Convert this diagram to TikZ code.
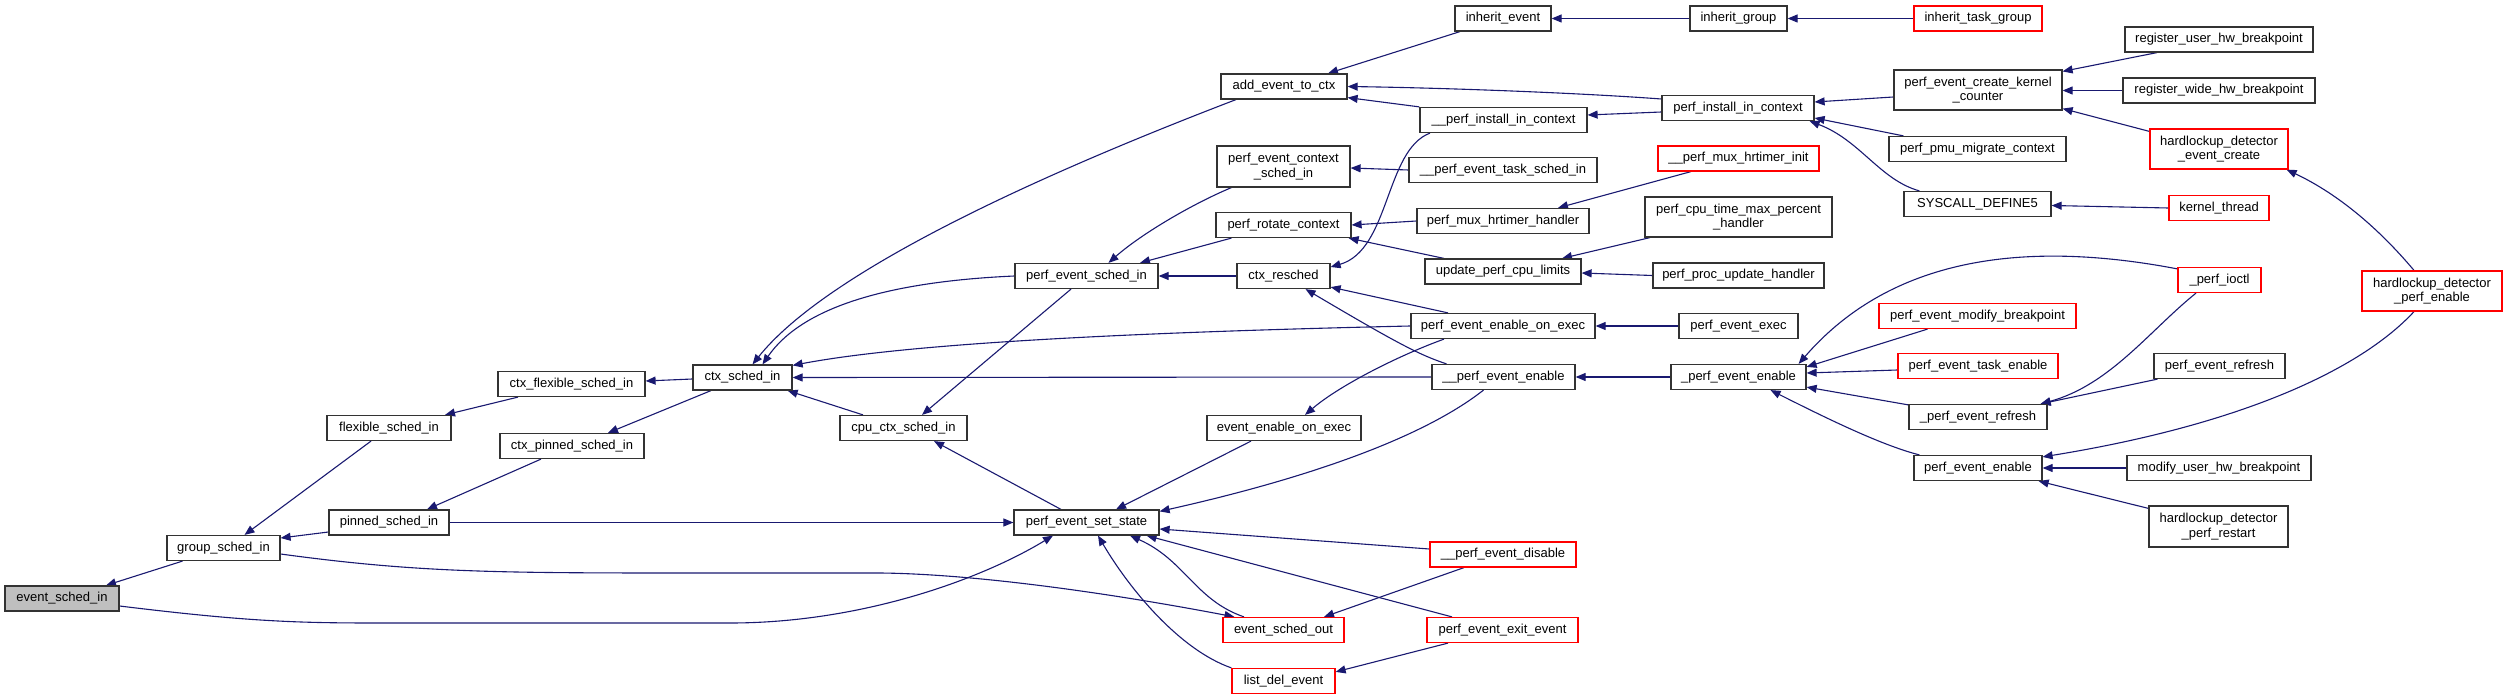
\documentclass[tikz,border=0pt]{standalone}
\usepackage{fontspec}
\setmainfont{Liberation Sans}
\usetikzlibrary{arrows.meta}
\definecolor{navy}{HTML}{191970}
\definecolor{boxred}{HTML}{FF0000}
\definecolor{rootgray}{HTML}{BFBFBF}
\pgfdeclarelayer{bg}
\pgfsetlayers{bg,main}
\begin{document}
\begin{tikzpicture}[x=1pt,y=-1pt,
 fn/.style={draw=black!80, line width=1.2pt, fill=white, minimum height=25pt, inner sep=0pt, font=\fontsize{13}{14.5}\selectfont, align=center},
 fnred/.style={fn, draw=boxred},
 fnroot/.style={fn, fill=rootgray},
 ca/.style={draw=navy, line width=1.1pt, -{Triangle[length=10pt,width=8pt]}}]
\useasboundingbox (0,0) rectangle (2507,700);

% column 1-6
\node[fnroot, minimum width=114pt] (esi) at (62,598.5) {event\_sched\_in};
\node[fn, minimum width=113pt] (gsi) at (223.5,548) {group\_sched\_in};
\node[fn, minimum width=124pt] (fsi) at (389,428) {flexible\_sched\_in};
\node[fn, minimum width=120pt] (psi) at (389,522.5) {pinned\_sched\_in};
\node[fn, minimum width=147pt] (cfsi) at (571.5,384) {ctx\_flexible\_sched\_in};
\node[fn, minimum width=144pt] (cpsi) at (572,446) {ctx\_pinned\_sched\_in};
\node[fn, minimum width=99pt] (csi) at (742.5,377.5) {ctx\_sched\_in};
\node[fn, minimum width=127pt] (ccsi) at (903.5,428) {cpu\_ctx\_sched\_in};
\node[fn, minimum width=145pt] (pses) at (1086.5,522.5) {perf\_event\_set\_state};
\node[fn, minimum width=143pt] (pesi) at (1086.5,276) {perf\_event\_sched\_in};
% column 7
\node[fn, minimum width=126pt] (aetc) at (1284,86.5) {add\_event\_to\_ctx};
\node[fn, minimum width=133pt, minimum height=41pt] (pecsi) at (1283.5,166.5) {perf\_event\_context\\\_sched\_in};
\node[fn, minimum width=135pt] (prc) at (1283.5,225) {perf\_rotate\_context};
\node[fn, minimum width=93pt] (cr) at (1283.5,276) {ctx\_resched};
\node[fn, minimum width=154pt] (eeoe) at (1284,428) {event\_enable\_on\_exec};
\node[fnred, minimum width=121pt] (eso) at (1283.5,630) {event\_sched\_out};
\node[fnred, minimum width=103pt] (lde) at (1283.5,681) {list\_del\_event};
% column 8
\node[fn, minimum width=96pt] (ie) at (1503,18.5) {inherit\_event};
\node[fn, minimum width=167pt] (upic) at (1503.5,120) {\_\_perf\_install\_in\_context};
\node[fn, minimum width=188pt] (upetsi) at (1503,170) {\_\_perf\_event\_task\_sched\_in};
\node[fn, minimum width=172pt] (pmhh) at (1503,221) {perf\_mux\_hrtimer\_handler};
\node[fn, minimum width=156pt] (upcl) at (1503,271.5) {update\_perf\_cpu\_limits};
\node[fn, minimum width=184pt] (peeoe) at (1503,326) {perf\_event\_enable\_on\_exec};
\node[fn, minimum width=143pt] (uupee) at (1503.5,377) {\_\_perf\_event\_enable};
\node[fnred, minimum width=146pt] (upedis) at (1503,554.5) {\_\_perf\_event\_disable};
\node[fnred, minimum width=151pt] (peee) at (1502.5,630) {perf\_event\_exit\_event};
% column 9
\node[fn, minimum width=97pt] (ig) at (1738.5,18.5) {inherit\_group};
\node[fn, minimum width=152pt] (pic) at (1738,108) {perf\_install\_in\_context};
\node[fnred, minimum width=161pt] (upmhi) at (1738.5,158.5) {\_\_perf\_mux\_hrtimer\_init};
\node[fn, minimum width=187pt, minimum height=40pt] (pctmph) at (1738.5,217) {perf\_cpu\_time\_max\_percent\\\_handler};
\node[fn, minimum width=171pt] (ppuh) at (1738.5,275.5) {perf\_proc\_update\_handler};
\node[fn, minimum width=119pt] (pex) at (1738.5,326) {perf\_event\_exec};
\node[fn, minimum width=135pt] (upee) at (1738.5,377) {\_perf\_event\_enable};
% column 10
\node[fnred, minimum width=128pt] (itg) at (1978,18.5) {inherit\_task\_group};
\node[fn, minimum width=168pt, minimum height=40pt] (pekc) at (1978,90) {perf\_event\_create\_kernel\\\_counter};
\node[fn, minimum width=177pt] (ppmc) at (1977.5,149) {perf\_pmu\_migrate\_context};
\node[fn, minimum width=147pt] (sd5) at (1977.5,204) {SYSCALL\_DEFINE5};
\node[fnred, minimum width=197pt] (pemb) at (1977.5,316) {perf\_event\_modify\_breakpoint};
\node[fnred, minimum width=160pt] (pete) at (1978,366) {perf\_event\_task\_enable};
\node[fn, minimum width=138pt] (uper) at (1978,417) {\_perf\_event\_refresh};
\node[fn, minimum width=128pt] (pee) at (1978,468) {perf\_event\_enable};
% column 11
\node[fn, minimum width=188pt] (ruhb) at (2219,39.5) {register\_user\_hw\_breakpoint};
\node[fn, minimum width=192pt] (rwhb) at (2219,90.5) {register\_wide\_hw\_breakpoint};
\node[fnred, minimum width=138pt, minimum height=40pt] (hdec) at (2219,149) {hardlockup\_detector\\\_event\_create};
\node[fnred, minimum width=100pt] (kt) at (2219,208) {kernel\_thread};
\node[fnred, minimum width=83pt] (upi) at (2219.5,280) {\_perf\_ioctl};
\node[fn, minimum width=131pt] (per) at (2219.5,366) {perf\_event\_refresh};
\node[fn, minimum width=184pt] (muhb) at (2219,468) {modify\_user\_hw\_breakpoint};
\node[fn, minimum width=139pt, minimum height=41pt] (hdpr) at (2218.5,526.5) {hardlockup\_detector\\\_perf\_restart};
% column 12
\node[fnred, minimum width=140pt, minimum height=40pt] (hdpe) at (2432,291) {hardlockup\_detector\\\_perf\_enable};

\begin{pgfonlayer}{bg}
\draw[ca] ([xshift=-41pt]gsi.south) -- ([xshift=44pt]esi.north);
\draw[ca] ([xshift=-18pt]fsi.south) -- ([xshift=21pt]gsi.north);
\draw[ca] ([yshift=-9.5pt]psi.west) -- ([yshift=10pt]gsi.east);
\draw[ca] ([xshift=-53.5pt]cfsi.south) -- ([xshift=56pt]fsi.north);
\draw[ca] ([xshift=-31.5pt]csi.south) -- ([xshift=36pt]cpsi.north);
\draw[ca] ([xshift=-31pt]cpsi.south) -- ([xshift=38pt]psi.north);
\draw[ca] (psi.east) -- (pses.west);
\draw[ca] ([yshift=-6pt]gsi.east) .. controls (420,573) and (500,573) .. (700,573) -- (880,573) .. controls (980,574) and (1120,595) .. ([xshift=-49pt]eso.north);
\draw[ca] ([yshift=-7.5pt]esi.east) .. controls (250,622) and (300,623) .. (380,623) -- (730,623) .. controls (860,623) and (980,580) .. ([xshift=-33.5pt]pses.south);
\draw[ca] ([yshift=-1.5pt]csi.west) -- ([yshift=3pt]cfsi.east);
\draw[ca] ([xshift=-40.5pt]ccsi.north) -- ([xshift=-5pt]csi.south east);
\draw[ca] ([xshift=-15.5pt]pesi.south) -- ([xshift=18.5pt]ccsi.north);
\draw[ca] ([xshift=-25.5pt]pses.north) -- ([xshift=30.5pt]ccsi.south);
\draw[ca] ([xshift=-48pt]aetc.south) .. controls (1000,190) and (820,280) .. ([xshift=10pt]csi.north);
\draw[ca] (pesi.west) .. controls (880,282) and (800,310) .. ([xshift=20pt]csi.north);
\draw[ca] (peeoe.west) .. controls (1100,333) and (900,345) .. ([yshift=-1pt]csi.north east);
\draw[ca] (uupee.west) -- (csi.east);
\draw[ca] ([xshift=-33pt]eeoe.south) -- ([xshift=29.5pt]pses.north);
\draw[ca] ([xshift=-20pt]uupee.south) .. controls (1420,440) and (1300,480) .. ([yshift=-2pt]pses.north east);
\draw[ca] ([yshift=5.5pt]upedis.west) -- ([yshift=-6.5pt]pses.east);
\draw[ca] ([xshift=-50.5pt]peee.north) -- ([xshift=-13pt]pses.south east);
\draw[ca] ([xshift=-39.5pt]eso.north) .. controls (1195,600) and (1185,560) .. ([xshift=43.5pt]pses.south);
\draw[ca] (lde.north west) .. controls (1180,650) and (1130,590) .. ([xshift=11.5pt]pses.south);
\draw[ca] ([xshift=-39pt]upedis.south) -- ([xshift=40.5pt]eso.north);
\draw[ca] ([xshift=-54.5pt]peee.south) -- ([yshift=-4pt]lde.north east);
\draw[ca] ([xshift=-59pt]peeoe.south) .. controls (1400,355) and (1340,385) .. ([xshift=21pt]eeoe.north);
\draw[ca] ([xshift=-43pt]ie.south) -- ([xshift=44pt]aetc.north);
\draw[ca] ([yshift=9pt]pic.west) .. controls (1580,93) and (1450,88) .. (aetc.east);
\draw[ca] (upic.north west) -- ([yshift=2pt]aetc.south east);
\draw[ca] ([yshift=-4pt]pic.west) -- ([yshift=5pt]upic.east);
\draw[ca] ([xshift=-73.5pt]upic.south) .. controls (1385,150) and (1390,250) .. ([yshift=9pt]cr.east);
\draw[ca] (upetsi.west) -- ([yshift=-1.5pt]pecsi.east);
\draw[ca] (pmhh.west) -- (prc.east);
\draw[ca] ([xshift=-59pt]upcl.north) -- ([xshift=-3pt]prc.south east);
\draw[ca] ([xshift=-47.5pt]upmhi.south) -- ([xshift=55pt]pmhh.north);
\draw[ca] ([xshift=-88.5pt]pctmph.south) -- ([xshift=59pt]upcl.north);
\draw[ca] (ppuh.west) -- ([yshift=-1.5pt]upcl.east);
\draw[ca] (pex.west) -- (peeoe.east);
\draw[ca] ([xshift=-55pt]peeoe.north) -- ([yshift=2pt]cr.south east);
\draw[ca] ([xshift=-57pt]uupee.north) .. controls (1420,355) and (1400,345) .. ([xshift=22pt]cr.south);
\draw[ca] (cr.west) -- (pesi.east);
\draw[ca] ([xshift=15pt]pecsi.south west) .. controls (1190,205) and (1140,235) .. ([xshift=22pt]pesi.north);
\draw[ca] ([xshift=16pt]prc.south west) -- ([xshift=53.5pt]pesi.north);
\draw[ca] (ig.west) -- (ie.east);
\draw[ca] (itg.west) -- (ig.east);
\draw[ca] ([yshift=-7pt]pekc.west) -- ([yshift=6pt]pic.east);
\draw[ca] ([xshift=15pt]ppmc.north west) -- ([yshift=-10pt]pic.east);
\draw[ca] ([xshift=16pt]sd5.north west) .. controls (1880,180) and (1860,140) .. ([xshift=-5pt]pic.south east);
\draw[ca] ([xshift=-62pt]ruhb.south) -- ([yshift=-2pt]pekc.north east);
\draw[ca] (rwhb.west) -- ([yshift=-0.5pt]pekc.east);
\draw[ca] ([yshift=-3pt]hdec.north west) -- ([yshift=2pt]pekc.south east);
\draw[ca] (kt.west) -- ([yshift=-1.5pt]sd5.east);
\draw[ca] ([xshift=-18pt]hdpe.north) .. controls (2380,230) and (2340,195) .. ([xshift=-2pt]hdec.south east);
\draw[ca] (upee.west) -- (uupee.east);
\draw[ca] ([yshift=-2pt]upi.north west) .. controls (2000,235) and (1880,270) .. ([xshift=-8pt]upee.north east);
\draw[ca] ([xshift=-50pt]pemb.south) -- ([yshift=-3pt]upee.north east);
\draw[ca] ([yshift=-4pt]pete.west) -- ([yshift=4pt]upee.east);
\draw[ca] ([yshift=-1pt]uper.north west) -- ([yshift=3pt]upee.south east);
\draw[ca] ([xshift=6pt]pee.north west) .. controls (1880,445) and (1820,415) .. ([xshift=32pt]upee.south);
\draw[ca] ([xshift=-23.5pt]upi.south) .. controls (2150,330) and (2110,385) .. ([xshift=-7pt]uper.north east);
\draw[ca] ([xshift=-62pt]per.south) -- ([xshift=-7pt]uper.north east);
\draw[ca] ([xshift=-18pt]hdpe.south) .. controls (2360,370) and (2240,425) .. ([yshift=-2pt]pee.north east);
\draw[ca] (muhb.west) -- (pee.east);
\draw[ca] ([yshift=-3pt]hdpr.north west) -- ([xshift=-4pt]pee.south east);
\end{pgfonlayer}
\end{tikzpicture}
\end{document}
